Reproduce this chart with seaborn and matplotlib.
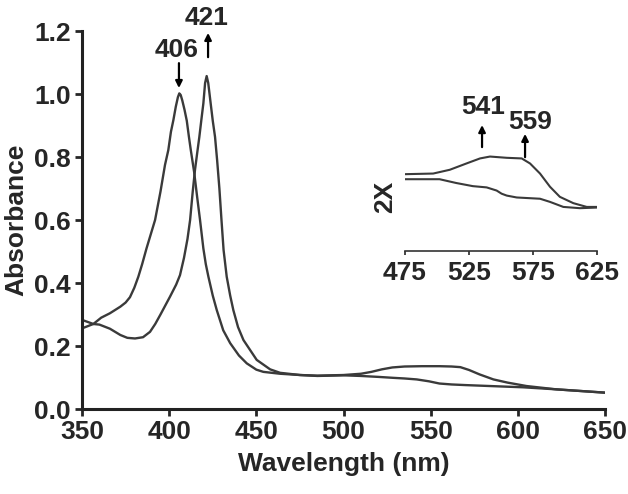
import numpy as np
import matplotlib
matplotlib.use("Agg")
import matplotlib.pyplot as plt
import seaborn as sns

# main spectrum, Soret 406 nm form
wl_406 = [350, 356.5, 361, 366, 372, 375, 377.5, 380, 382.3, 384.5, 387, 391.9, 395, 397.6, 399.5, 401, 402.4,
          403.8, 405, 405.8, 406.6, 407.5, 408.8, 410.1, 411.3, 412.4, 414.3, 416, 417.7,
          419.6, 421, 422.5, 425, 427.3, 431, 435, 440, 444.5, 450, 454, 463.6, 475, 485, 500,
          510, 520, 528.6, 535, 542, 549, 555, 562, 570, 584, 603, 622, 650]
abs_406 = [0.256, 0.27, 0.29, 0.304, 0.325, 0.338, 0.355, 0.385, 0.42, 0.46, 0.51, 0.6, 0.69, 0.775, 0.822, 0.88, 0.917,
           0.96, 0.99, 1.002, 0.997, 0.98, 0.95, 0.915, 0.865, 0.822, 0.753, 0.675, 0.6,
           0.51, 0.46, 0.42, 0.36, 0.314, 0.25, 0.209, 0.17, 0.145, 0.125, 0.118, 0.112, 0.108, 0.105, 0.107,
           0.105, 0.102, 0.099, 0.097, 0.094, 0.088, 0.081, 0.078, 0.076, 0.073, 0.069, 0.0625, 0.052]

# main spectrum, Soret 421 nm form
wl_421 = [350, 356.5, 360, 366, 372, 376, 380.4, 385, 389, 392, 395, 400.5, 404, 406.2, 408.5,
          410.5, 412, 413.5, 414.8, 416, 417.3, 418.5, 419.6, 420.6, 421.5, 422.4, 423.8, 425,
          426.3, 427.5, 428.8, 430, 431.2, 433, 435, 436.8, 439.5, 442.6, 450.2, 457.9, 463.6, 475,
          485, 500, 510, 516, 522, 528, 535, 545, 555, 562, 567, 572, 578, 586, 594, 605, 622, 650]
abs_421 = [0.283, 0.27, 0.268, 0.255, 0.235, 0.226, 0.224, 0.228, 0.245, 0.27, 0.3, 0.357, 0.395, 0.425, 0.48,
           0.54, 0.6, 0.69, 0.759, 0.81, 0.864, 0.92, 0.97, 1.035, 1.057, 1.035, 0.97, 0.915,
           0.864, 0.79, 0.7, 0.6, 0.505, 0.42, 0.36, 0.314, 0.26, 0.219, 0.156, 0.126, 0.115, 0.108,
           0.106, 0.108, 0.112, 0.118, 0.126, 0.132, 0.135, 0.136, 0.136, 0.135, 0.133, 0.124, 0.11, 0.094, 0.084, 0.073, 0.0625, 0.052]

# 2X inset (475-625 nm)
ins_wl_421 = [475, 497, 510, 523, 533.6, 541.4, 554.5, 566.2, 572.7, 580.5, 588.3, 596, 606.5, 617, 625]
ins_abs_421 = [0.114, 0.115, 0.121, 0.131, 0.139, 0.142, 0.140, 0.139, 0.131, 0.115, 0.094, 0.078,
               0.068, 0.062, 0.062]
ins_wl_406 = [475, 502, 515, 528, 538.8, 546.6, 550.5, 554.5, 562.3, 580.5, 588.3, 598.7, 611.7, 625]
ins_abs_406 = [0.106, 0.106, 0.100, 0.095, 0.093, 0.088, 0.083, 0.080, 0.077, 0.075, 0.070, 0.062, 0.060, 0.061]

x_ticks = [350, 400, 450, 500, 550, 600, 650]
y_ticks = [0.0, 0.2, 0.4, 0.6, 0.8, 1.0, 1.2]
ins_ticks = [475, 525, 575, 625]

sns.set_style("ticks")
plt.rcParams["font.family"] = ["Liberation Sans", "DejaVu Sans"]
plt.rcParams["font.weight"] = "bold"

line_col = "#3a3a3a"
fs = 19

fig = plt.figure(figsize=(6.28, 4.94), dpi=100)
ax = fig.add_axes([0.1306, 0.172, 0.8328, 0.7652])

sns.lineplot(x=wl_406, y=abs_406, ax=ax, color=line_col, lw=1.7, sort=False)
sns.lineplot(x=wl_421, y=abs_421, ax=ax, color=line_col, lw=1.7, sort=False)

ax.set_xlim(350, 650)
ax.set_ylim(0, 1.2)
ax.set_xticks(x_ticks)
ax.set_yticks(y_ticks)
ax.set_yticklabels([f"{v:.1f}" for v in y_ticks])
ax.set_xlabel("Wavelength (nm)", fontsize=fs, fontweight="bold", labelpad=6)
ax.set_ylabel("Absorbance", fontsize=fs, fontweight="bold", labelpad=4)
ax.tick_params(labelsize=fs, width=2, length=5, direction="out", pad=3)
for lab in ax.get_xticklabels() + ax.get_yticklabels():
    lab.set_fontweight("bold")
sns.despine(ax=ax)
for s in ["left", "bottom"]:
    ax.spines[s].set_linewidth(2.2)
    ax.spines[s].set_color("#222222")

arrow = dict(arrowstyle="-|>", lw=1.6, color="black", mutation_scale=10, shrinkA=0, shrinkB=0)
ax.text(404.5, 1.14, "406", fontsize=fs, fontweight="bold", ha="center", va="center")
ax.annotate("", xy=(405.6, 1.019), xytext=(405.6, 1.098), arrowprops=arrow)
ax.text(421.7, 1.241, "421", fontsize=fs, fontweight="bold", ha="center", va="center", clip_on=False)
ax.annotate("", xy=(422.3, 1.194), xytext=(422.3, 1.117), arrowprops=arrow, annotation_clip=False)

# inset
ins = fig.add_axes([0.6449, 0.4919, 0.3057, 0.2014])
ins.patch.set_alpha(0)
sns.lineplot(x=ins_wl_421, y=ins_abs_421, ax=ins, color=line_col, lw=1.5, sort=False)
sns.lineplot(x=ins_wl_406, y=ins_abs_406, ax=ins, color=line_col, lw=1.5, sort=False)
ins.set_xlim(475, 625)
ins.set_ylim(-0.008, 0.15)
ins.set_xticks(ins_ticks)
ins.set_yticks([])
ins.tick_params(labelsize=fs, width=1.2, length=3, direction="out", pad=4)
for lab in ins.get_xticklabels():
    lab.set_fontweight("bold")
for s in ["left", "right", "top"]:
    ins.spines[s].set_visible(False)
ins.spines["bottom"].set_linewidth(1.2)
ins.spines["bottom"].set_color("#333333")

ins.text(459.4, 0.078, "2X", fontsize=fs, fontweight="bold", rotation=90,
         ha="center", va="center", clip_on=False)
ins.text(536, 0.221, "541", fontsize=fs, fontweight="bold", ha="center", va="center", clip_on=False)
ins.annotate("", xy=(535.2, 0.192), xytext=(535.2, 0.157), arrowprops=arrow, annotation_clip=False)
ins.text(572.7, 0.197, "559", fontsize=fs, fontweight="bold", ha="center", va="center", clip_on=False)
ins.annotate("", xy=(568.8, 0.178), xytext=(568.8, 0.141), arrowprops=arrow, annotation_clip=False)

fig.savefig("out.png", dpi=100)
